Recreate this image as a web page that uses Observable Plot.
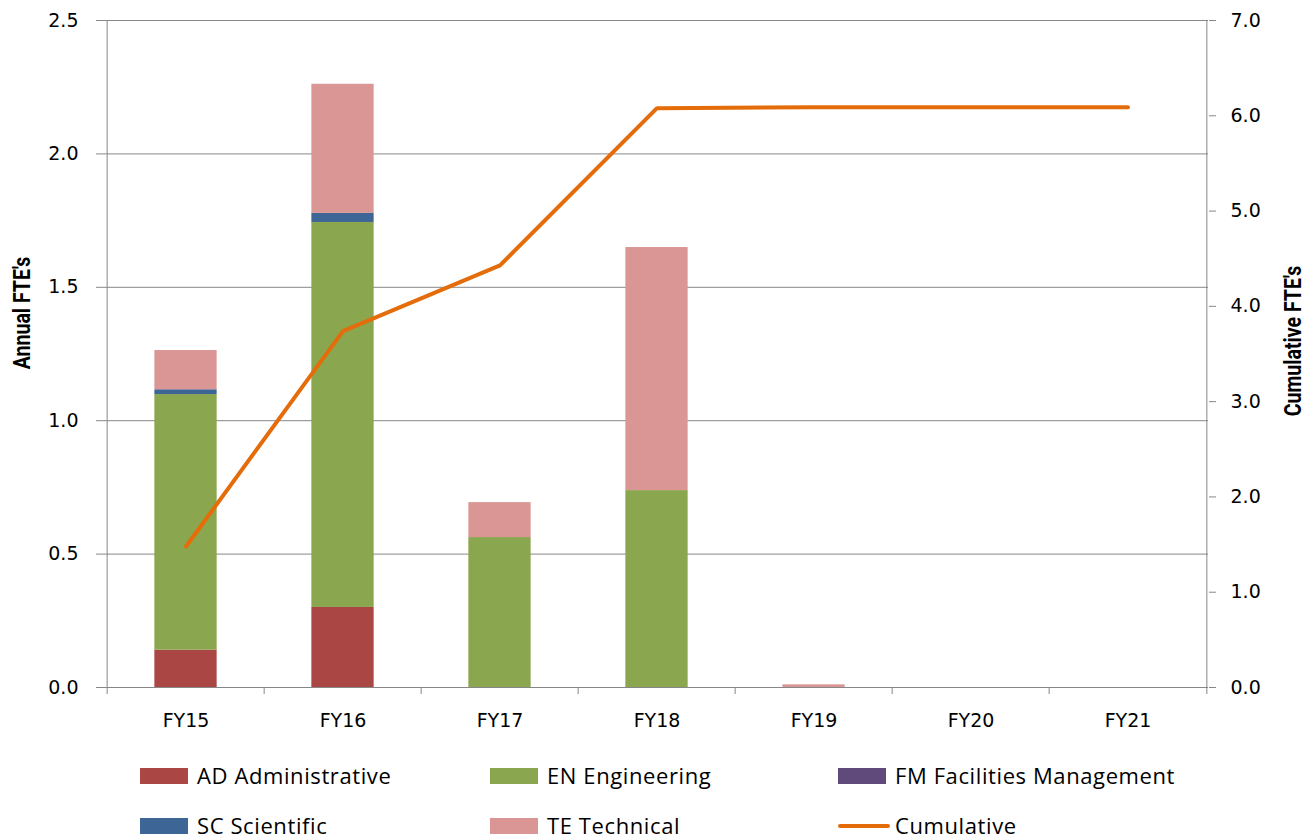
<!DOCTYPE html>
<html><head><meta charset="utf-8">
<script src="https://cdn.jsdelivr.net/npm/d3@7"></script>
<script src="https://cdn.jsdelivr.net/npm/@observablehq/plot@0.6"></script>
<style>
body{margin:0;background:#fff;}
#wrap{position:relative;width:1307px;height:838px;background:#fff;}
.ytitle{position:absolute;font-family:Roboto,sans-serif;font-weight:bold;font-size:23px;white-space:nowrap;transform:translate(-50%,-50%) rotate(-90deg) scaleX(0.85);color:#000;line-height:1;}
.leg{position:absolute;font-family:"Open Sans",sans-serif;font-size:22px;letter-spacing:0.6px;color:#000;white-space:nowrap;line-height:1;}
.sw{position:absolute;}
</style></head><body><div id="wrap"></div>
<script>
const categories = ["FY15","FY16","FY17","FY18","FY19","FY20","FY21"];
const series = ["AD Administrative","EN Engineering","FM Facilities Management","SC Scientific","TE Technical"];
const adValues = [0.14,0.30,0,0,0,0,0];
const enValues = [0.958,1.443,0.562,0.738,0,0,0];
const fmValues = [0,0,0,0,0,0,0];
const scValues = [0.018,0.034,0,0,0,0,0];
const teValues = [0.147,0.484,0.131,0.911,0.01,0,0];
const cumulativeLabel = "Cumulative";
const cumulativeValues = [1.48,3.74,4.43,6.08,6.09,6.09,6.09];
const leftTicks = [0,0.5,1.0,1.5,2.0,2.5];
const rightTicks = [0,1,2,3,4,5,6,7];
const seriesColors = ["#AA4644","#8AA64E","#604A7B","#3D6596","#D99694"];
const lineColor = "#E46C0A";
const leftMax = 2.5, rightMax = 7;

const W=1307, H=737, ML=104, MR=99, MT=20, MB=50;
const bw = (W-ML-MR)/categories.length;
const barW = 63;
const inset = (bw-barW)/2;
const ratio = leftMax/rightMax;
const pxPerUnit = (H-MT-MB)/leftMax;
const gridColor = "#878787";

const seriesValues = [adValues,enValues,fmValues,scValues,teValues];
const rows = [];
categories.forEach((c,i)=>seriesValues.forEach((vals,j)=>rows.push({cat:c, series:series[j], value:vals[i]})));
const cumRows = categories.map((c,i)=>({cat:c, value:cumulativeValues[i]}));

const chart = Plot.plot({
  width:W, height:H, marginLeft:ML, marginRight:MR, marginTop:MT, marginBottom:MB,
  style:{fontFamily:"DejaVu Sans, sans-serif", fontSize:"19px", color:"#000", background:"#fff", overflow:"visible"},
  x:{type:"band", domain:categories, padding:0},
  y:{domain:[0,leftMax]},
  color:{domain:series, range:seriesColors},
  marks:[
    Plot.gridY(leftTicks,{stroke:gridColor, strokeOpacity:1, strokeWidth:1}),
    Plot.barY(rows,{x:"cat", y:"value", fill:"series", insetLeft:inset, insetRight:inset}),
    Plot.ruleX([categories[0]],{x:d=>d, dx:-bw/2, y1:-7/pxPerUnit, y2:leftMax, stroke:gridColor}),
    Plot.ruleX([categories[categories.length-1]],{x:d=>d, dx:bw/2, y1:-7/pxPerUnit, y2:leftMax, stroke:gridColor}),
    Plot.ruleX(categories.slice(1),{x:d=>d, dx:-bw/2, y1:-7/pxPerUnit, y2:0, stroke:gridColor}),
    Plot.axisY(leftTicks,{anchor:"left", tickSize:8, tickPadding:18, stroke:gridColor, fill:"#000", tickFormat:d=>d.toFixed(1), label:null}),
    Plot.axisY(rightTicks.map(v=>v*ratio),{anchor:"right", tickSize:7, tickPadding:15, stroke:gridColor, fill:"#000", tickFormat:d=>(d/ratio).toFixed(1), label:null}),
    Plot.axisX({tickSize:0, tickPadding:26, label:null, fill:"#000"}),
    Plot.line(cumRows,{x:"cat", y:d=>d.value*ratio, stroke:lineColor, strokeWidth:4})
  ]
});
const wrap = document.getElementById("wrap");
wrap.appendChild(chart);

function addTitle(text, x, y){
  const d=document.createElement("div"); d.className="ytitle"; d.textContent=text;
  d.style.left=x+"px"; d.style.top=y+"px"; wrap.appendChild(d);
}
addTitle("Annual FTE's", 22, 313);
addTitle("Cumulative FTE's", 1293, 341);

const legendItems = [
  {label:series[0], color:seriesColors[0], type:"rect", col:0, row:0},
  {label:series[1], color:seriesColors[1], type:"rect", col:1, row:0},
  {label:series[2], color:seriesColors[2], type:"rect", col:2, row:0},
  {label:series[3], color:seriesColors[3], type:"rect", col:0, row:1},
  {label:series[4], color:seriesColors[4], type:"rect", col:1, row:1},
  {label:cumulativeLabel, color:lineColor, type:"line", col:2, row:1}
];
const colX = [140,490,838], rowY = [776,826];
legendItems.forEach(it=>{
  const sw=document.createElement("div"); sw.className="sw";
  const x=colX[it.col], cy=rowY[it.row];
  if(it.type==="rect"){ sw.style.left=x+"px"; sw.style.top=(cy-8)+"px"; sw.style.width="48px"; sw.style.height="16px"; sw.style.background=it.color; }
  else { sw.style.left=x+"px"; sw.style.top=(cy-2)+"px"; sw.style.width="52px"; sw.style.height="4px"; sw.style.background=it.color; sw.style.borderRadius="2px"; }
  wrap.appendChild(sw);
  const t=document.createElement("div"); t.className="leg"; t.textContent=it.label;
  t.style.left=(x+57)+"px"; t.style.top=(cy-12)+"px"; wrap.appendChild(t);
});
</script></body></html>
